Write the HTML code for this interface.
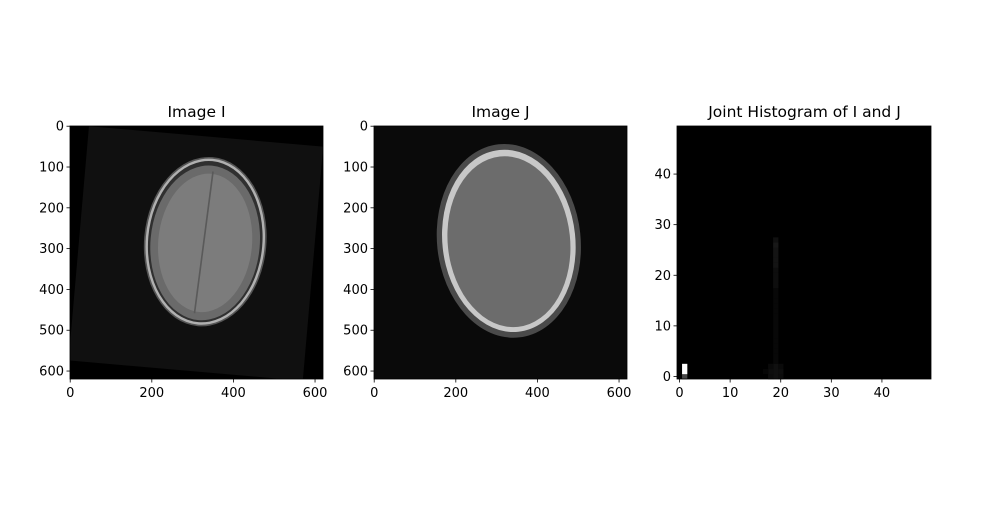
<!DOCTYPE html>
<html><head><meta charset="utf-8"><style>
body{margin:0;background:#fff;}
svg text{font-family:"DejaVu Sans","Liberation Sans",sans-serif;font-size:13px;fill:#000;}
</style></head><body>
<svg width="1000" height="500" viewBox="0 0 1000 500">
<rect width="1000" height="500" fill="#fff"/>
<defs>
<clipPath id="c1"><rect x="70" y="126" width="253" height="253"/></clipPath>
<clipPath id="c2"><rect x="374" y="126" width="253" height="253"/></clipPath>
</defs>
<g>
<text x="196.5" y="117" text-anchor="middle" style="font-size:15.5px">Image I</text>
<g clip-path="url(#c1)">
<rect x="70" y="126" width="253" height="253" fill="#000"/>
<g transform="translate(70.2,126.2) scale(0.408)">
<polygon points="46,0 620,50 570,624 -4,574" fill="#101010"/>
<g transform="rotate(5 331 283)">
<ellipse cx="331" cy="283" rx="150" ry="208" fill="#555"/>
<ellipse cx="331" cy="283" rx="146" ry="204" fill="#b0b0b0"/>
<ellipse cx="331" cy="283" rx="140" ry="198" fill="#303030"/>
<ellipse cx="331" cy="286" rx="134" ry="190" fill="#6a6a6a"/>
<ellipse cx="331" cy="286" rx="115" ry="170" fill="#7c7c7c"/>
<line x1="335" y1="110" x2="320" y2="460" stroke="#5a5a5a" stroke-width="4"/>
</g></g></g>
<rect x="70" y="126" width="253" height="253" fill="none" stroke="#000" stroke-width="0.8"/>
</g>
<g>
<text x="500.5" y="117" text-anchor="middle" style="font-size:15.5px">Image J</text>
<g clip-path="url(#c2)">
<rect x="374" y="126" width="253" height="253" fill="#0a0a0a"/>
<g transform="translate(374.2,126.2) scale(0.408)">
<g transform="rotate(-6 330 281)">
<ellipse cx="330" cy="281" rx="176" ry="238" fill="#4a4a4a"/>
<ellipse cx="330" cy="281" rx="163" ry="224" fill="#c8c8c8"/>
<ellipse cx="330" cy="283" rx="150" ry="210" fill="#6c6c6c"/>
</g></g></g>
<rect x="374" y="126" width="253" height="253" fill="none" stroke="#000" stroke-width="0.8"/>
</g>
<g>
<text x="804.5" y="117" text-anchor="middle" style="font-size:15.5px">Joint Histogram of I and J</text>
<rect x="677" y="126" width="254" height="253" fill="#000"/>
<g id="hcells"></g>
<rect x="677" y="126" width="254" height="253" fill="none" stroke="#000" stroke-width="0.8"/>
</g>
<g id="axes"></g>
</svg>
<script>
const imgTicks=[0,100,200,300,400,500,600];
const imgXTicks=[0,200,400,600];
const histTicks=[0,10,20,30,40];
const hx=[1,1,1,19,19,19,19,19,19,19,19,19,19,19,19,19,19,19,19,19,19,19,19,19,19,19,19,19,19,19,19,18,20,18,20,18,20,17];
const hy=[0,1,2,0,1,2,3,4,5,6,7,8,9,10,11,12,13,14,15,16,17,18,19,20,21,22,23,24,25,26,27,0,0,1,1,2,2,1];
const hv=[72,255,255,16,16,16,8,8,8,8,8,8,8,8,8,8,8,8,8,8,8,14,14,14,14,20,20,20,20,24,16,12,12,14,14,10,10,6];
const NS="http://www.w3.org/2000/svg";
function mk(t,a,p){const e=document.createElementNS(NS,t);for(const k in a)e.setAttribute(k,a[k]);p.appendChild(e);return e;}
const ax=document.getElementById('axes');
const s=253/620;
function ix(v,x0){return x0+(v+0.5)*s;}
function iy(v){return 126+(v+0.5)*s;}
[70,374].forEach((x0,pi)=>{
 imgTicks.forEach(t=>{const y=iy(t);
  const l=mk('line',{x1:x0-3.5,x2:x0,y1:y,y2:y,stroke:'#000','stroke-width':0.8},ax);
  
  
  const tx=mk('text',{x:x0-6,y:y+4.5,'text-anchor':'end'},ax);tx.textContent=t;
  
  });
 imgXTicks.forEach(t=>{const x=ix(t,x0);
  const l=mk('line',{x1:x,x2:x,y1:379,y2:382.5,stroke:'#000','stroke-width':0.8},ax);
  
  
  const tx=mk('text',{x:x,y:397,'text-anchor':'middle'},ax);tx.textContent=t;
  
  });
});
const hs=253/50;
function hX(v){return 677+(v+0.5)*hs;}
function hY(v){return 379-(v+0.5)*hs;}
histTicks.forEach(t=>{
 const y=hY(t),x=hX(t);
 let l=mk('line',{x1:673.5,x2:677,y1:y,y2:y,stroke:'#000','stroke-width':0.8},ax);
 
 
 let tx=mk('text',{x:671,y:y+4.5,'text-anchor':'end'},ax);tx.textContent=t;
 
 
 l=mk('line',{x1:x,x2:x,y1:379,y2:382.5,stroke:'#000','stroke-width':0.8},ax);
 
 
 tx=mk('text',{x:x,y:397,'text-anchor':'middle'},ax);tx.textContent=t;
 
 
});
const hc=document.getElementById('hcells');
const mx=Math.max(...hv);
for(let i=0;i<hx.length;i++){
 const g=Math.round(hv[i]/mx*255);
 const r=mk('rect',{x:hX(hx[i])-hs/2,y:hY(hy[i])-hs/2,width:hs+0.2,height:hs+0.2,fill:`rgb(${g},${g},${g})`},hc);
 
 
}
</script>
</body></html>
